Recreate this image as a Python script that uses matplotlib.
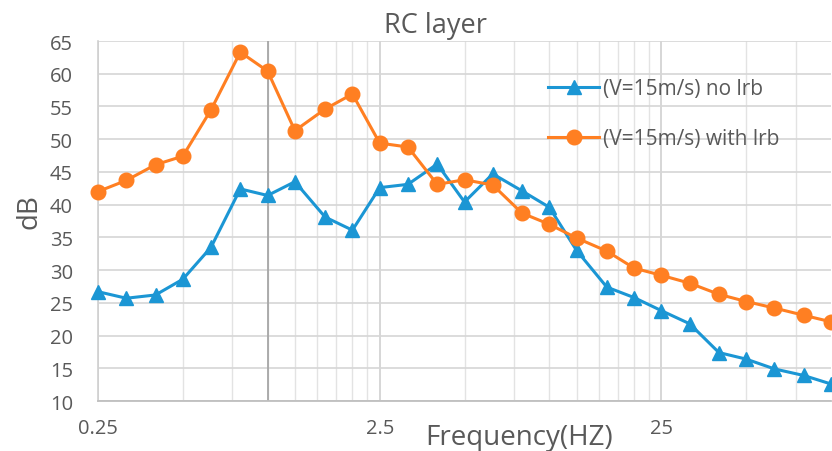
import matplotlib
matplotlib.use("Agg")
import matplotlib.pyplot as plt
from matplotlib.ticker import FixedLocator, NullFormatter

freqs = [0.25, 0.315, 0.4, 0.5, 0.63, 0.8, 1.0, 1.25, 1.6, 2.0, 2.5, 3.15, 4.0, 5.0,
         6.3, 8.0, 10.0, 12.5, 16.0, 20.0, 25.0, 31.5, 40.0, 50.0, 63.0, 80.0, 100.0]
no_lrb = [26.7, 25.7, 26.2, 28.6, 33.5, 42.4, 41.4, 43.5, 38.1, 36.1, 42.6, 43.1, 46.2, 40.4,
          44.7, 42.1, 39.6, 33.0, 27.4, 25.8, 23.8, 21.8, 17.4, 16.4, 14.9, 13.9, 12.6]
with_lrb = [42.0, 43.7, 46.1, 47.4, 54.5, 63.3, 60.4, 51.3, 54.6, 56.9, 49.4, 48.8, 43.1, 43.8,
            43.0, 38.7, 37.0, 34.9, 32.9, 30.3, 29.2, 28.0, 26.3, 25.2, 24.2, 23.1, 22.1]
series_labels = ["(V=15m/s) no lrb", "(V=15m/s) with lrb"]
x_major = [0.25, 2.5, 25]
x_major_labels = ["0.25", "2.5", "25"]
y_ticks = [10, 15, 20, 25, 30, 35, 40, 45, 50, 55, 60, 65]

plt.rcParams['font.family'] = ['Open Sans', 'DejaVu Sans']
txt = "#595959"
blue = "#1b96d4"
orange = "#ff7f22"

fig = plt.figure(figsize=(8.32, 4.52), dpi=100)
ax = fig.add_axes([98/832, 1-402/452, 733/832, 360/452])
ax.set_xscale('log')
ax.set_xlim(0.25, 100)
ax.set_ylim(10, 65)

# grid
minor = []
for dec in [0.25, 2.5, 25]:
    for m in range(2, 10):
        v = dec * m
        if v < 100:
            minor.append(v)
for v in minor:
    ax.axvline(v, color="#e3e3e3", lw=1.0, zorder=0)
for v in x_major:
    ax.axvline(v, color="#d0d0d0", lw=1.2, zorder=0)
for v in y_ticks:
    ax.axhline(v, color="#d6d6d6", lw=1.2, zorder=0)
ax.axvline(1.0, color="#a6a6a6", lw=1.3, zorder=0.5)

for s in ax.spines.values():
    s.set_visible(False)
ax.spines['bottom'].set_visible(True)
ax.spines['bottom'].set_color("#bfbfbf")
ax.spines['bottom'].set_linewidth(1.3)
ax.spines['left'].set_visible(True)
ax.spines['left'].set_color("#d0d0d0")
ax.spines['left'].set_linewidth(1.2)

ax.xaxis.set_major_locator(FixedLocator(x_major))
ax.set_xticklabels(x_major_labels)
ax.xaxis.set_minor_locator(FixedLocator(minor))
ax.xaxis.set_minor_formatter(NullFormatter())
ax.set_yticks(y_ticks)
ax.tick_params(axis='both', which='both', length=0, labelsize=14.5, labelcolor=txt)
ax.tick_params(axis='x', pad=12)
ax.tick_params(axis='y', pad=18)

ax.plot(freqs, no_lrb, color=blue, lw=2.2, marker='^', markersize=10.5, label=series_labels[0],
        zorder=3, clip_on=False)
ax.plot(freqs, with_lrb, color=orange, lw=2.2, marker='o', markersize=10.5, label=series_labels[1],
        zorder=3, clip_on=False)

leg = ax.legend(loc='upper left', bbox_to_anchor=(548/832, 1-79/452), bbox_transform=fig.transFigure,
                frameon=False, fontsize=15, labelspacing=1.4, handlelength=2.45, handletextpad=0.2,
                borderpad=0, borderaxespad=0)
for t in leg.get_texts():
    t.set_color(txt)

fig.text(435/832, 1-26/452, "RC layer", ha='center', va='center', fontsize=19.5, color=txt)
fig.text(519/832, 1-438/452, "Frequency(HZ)", ha='center', va='center', fontsize=20, color=txt)
fig.text(30/832, 1-212/452, "dB", ha='center', va='center', fontsize=20, color=txt, rotation=90)

fig.savefig("out.png", dpi=100)
